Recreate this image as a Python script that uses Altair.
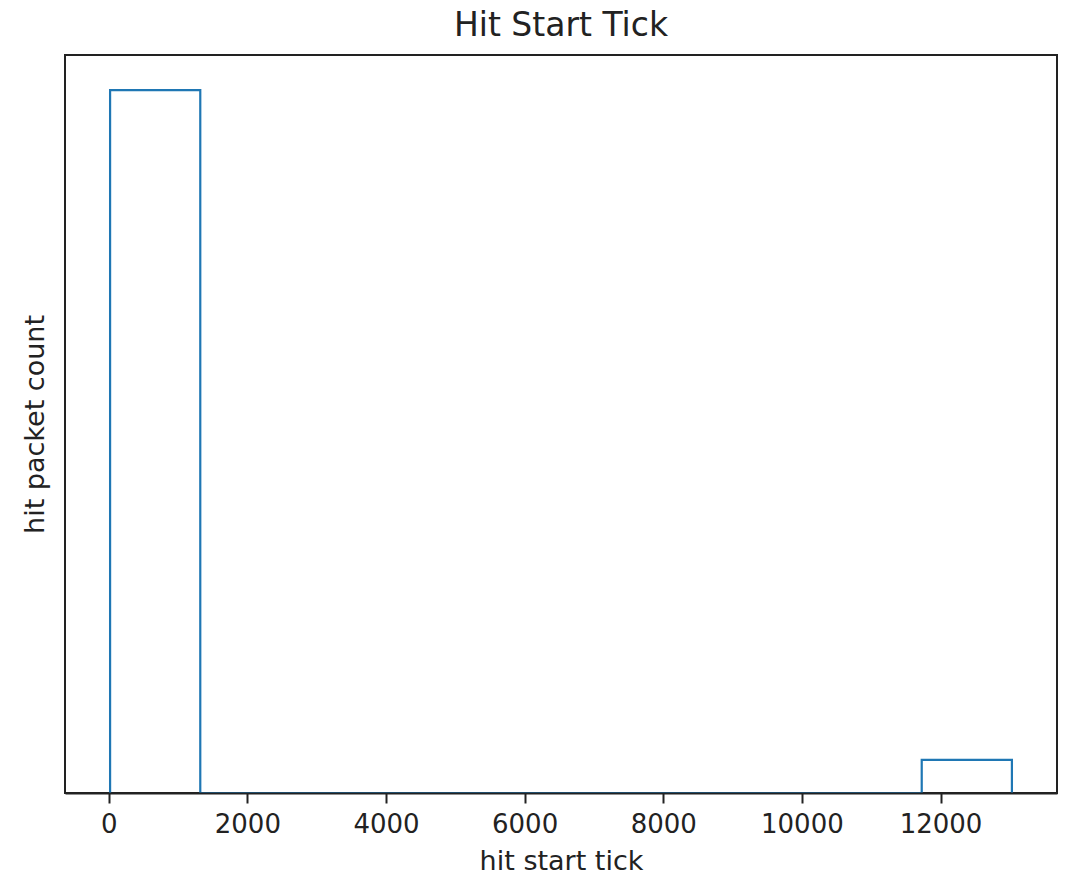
import altair as alt
import pandas as pd

# Histogram data (10 equal-width bins, step style)
bin_edges = [20, 1321, 2622, 3923, 5224, 6525, 7826, 9127, 10428, 11729, 13030]
counts = [1000, 0, 0, 0, 0, 0, 0, 0, 0, 47]
x_ticks = [0, 2000, 4000, 6000, 8000, 10000, 12000]

# Build the step outline from edges and counts
xs, ys = [bin_edges[0]], [0]
for i, c in enumerate(counts):
    xs += [bin_edges[i], bin_edges[i + 1]]
    ys += [c, c]
xs.append(bin_edges[-1])
ys.append(0)
df = pd.DataFrame({"x": xs, "y": ys, "i": list(range(len(xs)))})

span = bin_edges[-1] - bin_edges[0]
x_dom = [bin_edges[0] - 0.05 * span, bin_edges[-1] + 0.05 * span]
y_dom = [0, max(counts) * 1.05]

font = "DejaVu Sans"
ink = "#222222"

chart = (
    alt.Chart(df)
    .mark_line(color="#1f77b4", strokeWidth=2.2, clip=True)
    .encode(
        x=alt.X(
            "x:Q",
            scale=alt.Scale(domain=x_dom, nice=False, zero=False),
            axis=alt.Axis(
                values=x_ticks,
                title="hit start tick",
                grid=False,
                domain=True,
                domainColor=ink,
                domainWidth=2,
                zindex=1,
                tickColor=ink,
                tickWidth=2,
                tickSize=10,
                labelFont=font,
                labelFontSize=26,
                labelColor=ink,
                labelPadding=8,
                labelBaseline="top",
                titleFont=font,
                titleFontSize=27,
                titleFontWeight="normal",
                titleColor=ink,
                titlePadding=11,
                format="d",
            ),
        ),
        y=alt.Y(
            "y:Q",
            scale=alt.Scale(domain=y_dom, nice=False),
            axis=alt.Axis(
                title="hit packet count",
                grid=False,
                domain=False,
                ticks=False,
                labels=False,
                titleFont=font,
                titleFontSize=27,
                titleFontWeight="normal",
                titleColor=ink,
                titlePadding=16,
            ),
        ),
        order="i:Q",
    )
    .properties(
        width=992,
        height=738,
        title=alt.TitleParams(
            "Hit Start Tick",
            font=font,
            fontSize=33,
            fontWeight="normal",
            color=ink,
            offset=12,
        ),
        autosize=alt.AutoSizeParams(type="none"),
        padding={"left": 65, "top": 55, "right": 12, "bottom": 86},
    )
    .configure(background="white")
    .configure_view(stroke=ink, strokeWidth=2)
)

chart.save("out.html", embed_options={"renderer": "svg", "actions": False})
